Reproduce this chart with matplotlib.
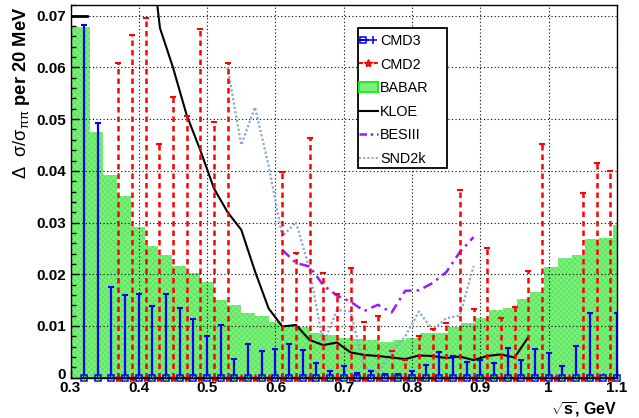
import numpy as np
import matplotlib
matplotlib.use("Agg")
import matplotlib.pyplot as plt
import matplotlib.transforms as mtransforms
from matplotlib.lines import Line2D
from matplotlib.patches import Patch, Rectangle
from matplotlib.legend_handler import HandlerTuple
from matplotlib.ticker import MultipleLocator, FixedLocator

plt.rcParams['font.family'] = ['Liberation Sans', 'DejaVu Sans']
plt.rcParams['mathtext.fontset'] = 'custom'
plt.rcParams['mathtext.rm'] = 'Liberation Sans'
plt.rcParams['mathtext.it'] = 'Liberation Sans'
plt.rcParams['mathtext.bf'] = 'Liberation Sans:bold'
plt.rcParams['hatch.linewidth'] = 0.4

# ---------------- data ----------------
cmd3_x = np.round(np.arange(0.32, 1.101, 0.02), 3)
cmd3_err = [0.0682, 0.0493, 0.0176, 0.0159, 0.0161, 0.0139, 0.0161, 0.0134, 0.0113, 0.0081,
            0.0101, 0.0036, 0.0066, 0.0052, 0.0055, 0.0066, 0.0054, 0.0029, 0.0012, 0.0023,
            0.0010, 0.0013, 0.0007, 0.0007, 0.0012, 0.0025, 0.0049, 0.0041, 0.0031, 0.0034,
            0.0028, 0.0057, 0.0034, 0.0055, 0.0047, 0.0022, 0.0062, 0.0125, 0.0000, 0.0126]

cmd2_x = np.round(np.arange(0.37, 1.091, 0.02), 3)
cmd2_err = [0.0609, 0.0663, 0.0695, 0.0452, 0.0543, 0.0506, 0.0674, 0.0494, 0.0608, np.nan,
            np.nan, np.nan, 0.0397, 0.0242, 0.0463, 0.0203, 0.0161, 0.0213, 0.0108, 0.0119,
            0.0052, 0.0034, 0.0081, 0.0095, 0.0106, 0.0363, 0.0132, 0.0250, 0.0115, 0.0137,
            0.0207, 0.0452, np.nan, np.nan, 0.0358, 0.0416, 0.0399]

babar_edges = np.concatenate([[0.30], np.linspace(0.328, 1.094, 39), [1.10]])
babar_val = [0.0679, 0.0476, 0.0391, 0.0351, 0.0292, 0.0255, 0.0237, 0.0216, 0.0202, 0.0185,
             0.0150, 0.0141, 0.0126, 0.0119, 0.0108, 0.0100, 0.0098, 0.0086, 0.0083, 0.0076,
             0.0075, 0.0073, 0.0070, 0.0073, 0.0076, 0.0086, 0.0087, 0.0099, 0.0105, 0.0115,
             0.0130, 0.0134, 0.0153, 0.0165, 0.0215, 0.0232, 0.0237, 0.0268, 0.0271, 0.0295]

kloe_x = [0.300, 0.427, 0.431, 0.45, 0.47, 0.49, 0.51, 0.53, 0.55, 0.57, 0.59, 0.61, 0.63,
          0.65, 0.67, 0.69, 0.71, 0.73, 0.75, 0.77, 0.79, 0.81, 0.83, 0.85, 0.87, 0.89, 0.91,
          0.93, 0.95, 0.97]
kloe_y = [0.0721, 0.0721, 0.0676, 0.0600, 0.0508, 0.0440, 0.0366, 0.0320, 0.0286, 0.0206,
          0.0134, 0.0099, 0.0102, 0.0073, 0.0063, 0.0068, 0.0049, 0.0044, 0.0042, 0.0039,
          0.0036, 0.0043, 0.0042, 0.0038, 0.0041, 0.0034, 0.0042, 0.0045, 0.0039, 0.0078]
kloe_stub_x = [0.300, 0.324]
kloe_stub_y = [0.070, 0.070]

bes_x = [0.61, 0.63, 0.65, 0.67, 0.69, 0.71, 0.73, 0.75, 0.77, 0.79, 0.81, 0.83, 0.85, 0.87, 0.89]
bes_y = [0.0247, 0.0222, 0.0215, 0.0179, 0.0159, 0.0147, 0.0129, 0.0141, 0.0126, 0.0168,
         0.0169, 0.0183, 0.0204, 0.0243, 0.0272]

snd_x = [0.53, 0.55, 0.57, 0.59, 0.61, 0.63, 0.65, 0.67, 0.69, 0.71, 0.73, 0.75, 0.77, 0.79,
         0.81, 0.83, 0.85, 0.87, 0.89]
snd_y = [0.0600, 0.0450, 0.0523, 0.0410, 0.0273, 0.0301, 0.0210, 0.0065, 0.0131, 0.0128,
         0.0020, 0.0010, 0.0050, 0.0080, 0.0128, 0.0092, 0.0115, 0.0120, 0.0216]

x_ticks = [0.3, 0.4, 0.5, 0.6, 0.7, 0.8, 0.9, 1.0, 1.1]
x_ticklabels = ['0.3', '0.4', '0.5', '0.6', '0.7', '0.8', '0.9', '1', '1.1']
y_ticks = [0, 0.01, 0.02, 0.03, 0.04, 0.05, 0.06, 0.07]
y_ticklabels = ['0', '0.01', '0.02', '0.03', '0.04', '0.05', '0.06', '0.07']

labels = ['CMD3', 'CMD2', 'BABAR', 'KLOE', 'BESIII', 'SND2k']

# ---------------- figure ----------------
W, H = 639, 418
fig = plt.figure(figsize=(W / 100, H / 100), dpi=100)
ax = fig.add_axes([70.5 / W, 1 - 377.7 / H, (617 - 70.5) / W, (377.7 - 5) / H])
ax.set_xlim(0.3, 1.1)
ax.set_ylim(0, 0.07207)

GREEN_FACE = '#7def7d'
GREEN_HATCH = '#4fe24f'
BLUE = '#0000ff'
RED = '#ff0000'
PURPLE = '#9a19ff'
LBLUE = '#8aa6d6'

ax.stairs(babar_val, babar_edges, fill=True, facecolor=GREEN_FACE, edgecolor=GREEN_HATCH,
          hatch='xxxxxx', linewidth=0, zorder=1)

ax.grid(True, which='major', color='black', linestyle=(0, (1, 2.2)), linewidth=0.8, zorder=2)

# SND2k
ax.plot(snd_x, snd_y, color=LBLUE, linestyle=(0, (1, 1)), linewidth=1.6, zorder=3)
# BESIII
ax.plot(bes_x, bes_y, color=PURPLE, linestyle=(0, (4, 2, 1, 2)), linewidth=1.8, zorder=3)
# KLOE
ax.plot(kloe_x, kloe_y, color='black', linewidth=1.5, zorder=4)
ax.plot(kloe_stub_x, kloe_stub_y, color='black', linewidth=2.0, zorder=4)

# CMD2
zeros2 = np.zeros(len(cmd2_x))
eb2 = ax.errorbar(cmd2_x, zeros2, yerr=[zeros2, cmd2_err], fmt='none', ecolor=RED,
                  elinewidth=1.8, capsize=2.2, capthick=1.5, zorder=5)
eb2[2][0].set_linestyle((0, (2.2, 1.6)))
ax.plot(cmd2_x, zeros2, color=RED, linestyle=(0, (3, 2)), linewidth=1.5, marker='*',
        markersize=6, clip_on=False, zorder=7)

# CMD3
zeros3 = np.zeros(len(cmd3_x))
ax.errorbar(cmd3_x, zeros3, yerr=[zeros3, cmd3_err], fmt='none', ecolor=BLUE,
            elinewidth=1.6, capsize=2.2, capthick=1.5, zorder=6)
ax.plot(cmd3_x, zeros3, color=BLUE, linewidth=1.2, marker='s', markersize=4.5,
        markerfacecolor='none', markeredgewidth=1.1, clip_on=False, zorder=8)
ax.plot(cmd3_x, zeros3, linestyle='none', color='#22bb22', marker='+', markersize=4,
        markeredgewidth=0.8, clip_on=False, zorder=9)

# axes cosmetics
ax.xaxis.set_major_locator(FixedLocator(x_ticks))
ax.set_xticklabels(x_ticklabels)
ax.yaxis.set_major_locator(FixedLocator(y_ticks))
ax.set_yticklabels(y_ticklabels)
ax.xaxis.set_minor_locator(MultipleLocator(0.02))
ax.yaxis.set_minor_locator(MultipleLocator(0.002))
ax.tick_params(axis='both', which='both', direction='in', top=False, right=False)
ax.tick_params(axis='both', which='major', length=6, width=1, labelsize=11)
ax.tick_params(axis='x', which='major', pad=2.5)
ax.tick_params(axis='y', which='major', pad=3)
ax.tick_params(axis='both', which='minor', length=3.5, width=1)
for lab in ax.get_xticklabels() + ax.get_yticklabels():
    lab.set_fontweight('bold')
# nudge the "0" label up a little so it does not touch "0.3"
zero_lab = ax.get_yticklabels()[0]
zero_lab.set_transform(zero_lab.get_transform() +
                       mtransforms.ScaledTranslation(0, 4 / 100, fig.dpi_scale_trans))
for s in ax.spines.values():
    s.set_linewidth(1.0)
    s.set_zorder(10)

fig.text(21.5 / W, 1 - 6 / H, r'$\Delta$  $\sigma/\sigma_{\pi\pi}$ per 20 MeV', rotation=90,
         ha='center', va='top', fontsize=13.2, fontweight='bold')
fig.text(617 / W, 1 - 414.5 / H, r'$\sqrt{\mathbf{s}}$, GeV', ha='right', va='baseline',
         fontsize=11.5, fontweight='bold')

# legend
h_cmd3 = (Line2D([], [], color=BLUE, linewidth=1.5, marker='s', markersize=5,
                 markerfacecolor='none', markeredgewidth=1.1),
          Line2D([], [], color=BLUE, linestyle='none', marker='+', markersize=6,
                 markeredgewidth=1.1))
h_cmd2 = Line2D([], [], color=RED, linestyle=(0, (2, 1.5)), linewidth=1.5, marker='*',
                markersize=6)
h_babar = Patch(facecolor=GREEN_FACE, edgecolor='#22ee22', linewidth=1.5)
h_kloe = Line2D([], [], color='black', linewidth=1.5)
h_bes = Line2D([], [], color=PURPLE, linestyle=(0, (3, 1.5, 1, 1.5)), linewidth=1.8)
h_snd = Line2D([], [], color=LBLUE, linestyle=(0, (1, 1)), linewidth=1.5)
leg = ax.legend([h_cmd3, h_cmd2, h_babar, h_kloe, h_bes, h_snd], labels,
                handler_map={tuple: HandlerTuple(ndivide=None, pad=0)},
                loc='upper left',
                bbox_to_anchor=ax.transAxes.inverted().transform(
                    fig.transFigure.transform((358.5 / W, 1 - 34 / H))),
                fontsize=10.4, frameon=False, borderpad=0, labelspacing=0.66,
                handlelength=1.35, handletextpad=0.15, borderaxespad=0)
leg.set_zorder(20)
# legend box (ROOT style, fixed pixel extent)
box = Rectangle((357.5 / W, 1 - 168 / H), (447 - 357.5) / W, (168 - 28.5) / H,
                transform=fig.transFigure, facecolor='white', edgecolor='black',
                linewidth=1.3, zorder=15)
ax.add_artist(box)
box.set_transform(fig.transFigure)
box.set_clip_on(False)

fig.savefig('out.png', dpi=100)
